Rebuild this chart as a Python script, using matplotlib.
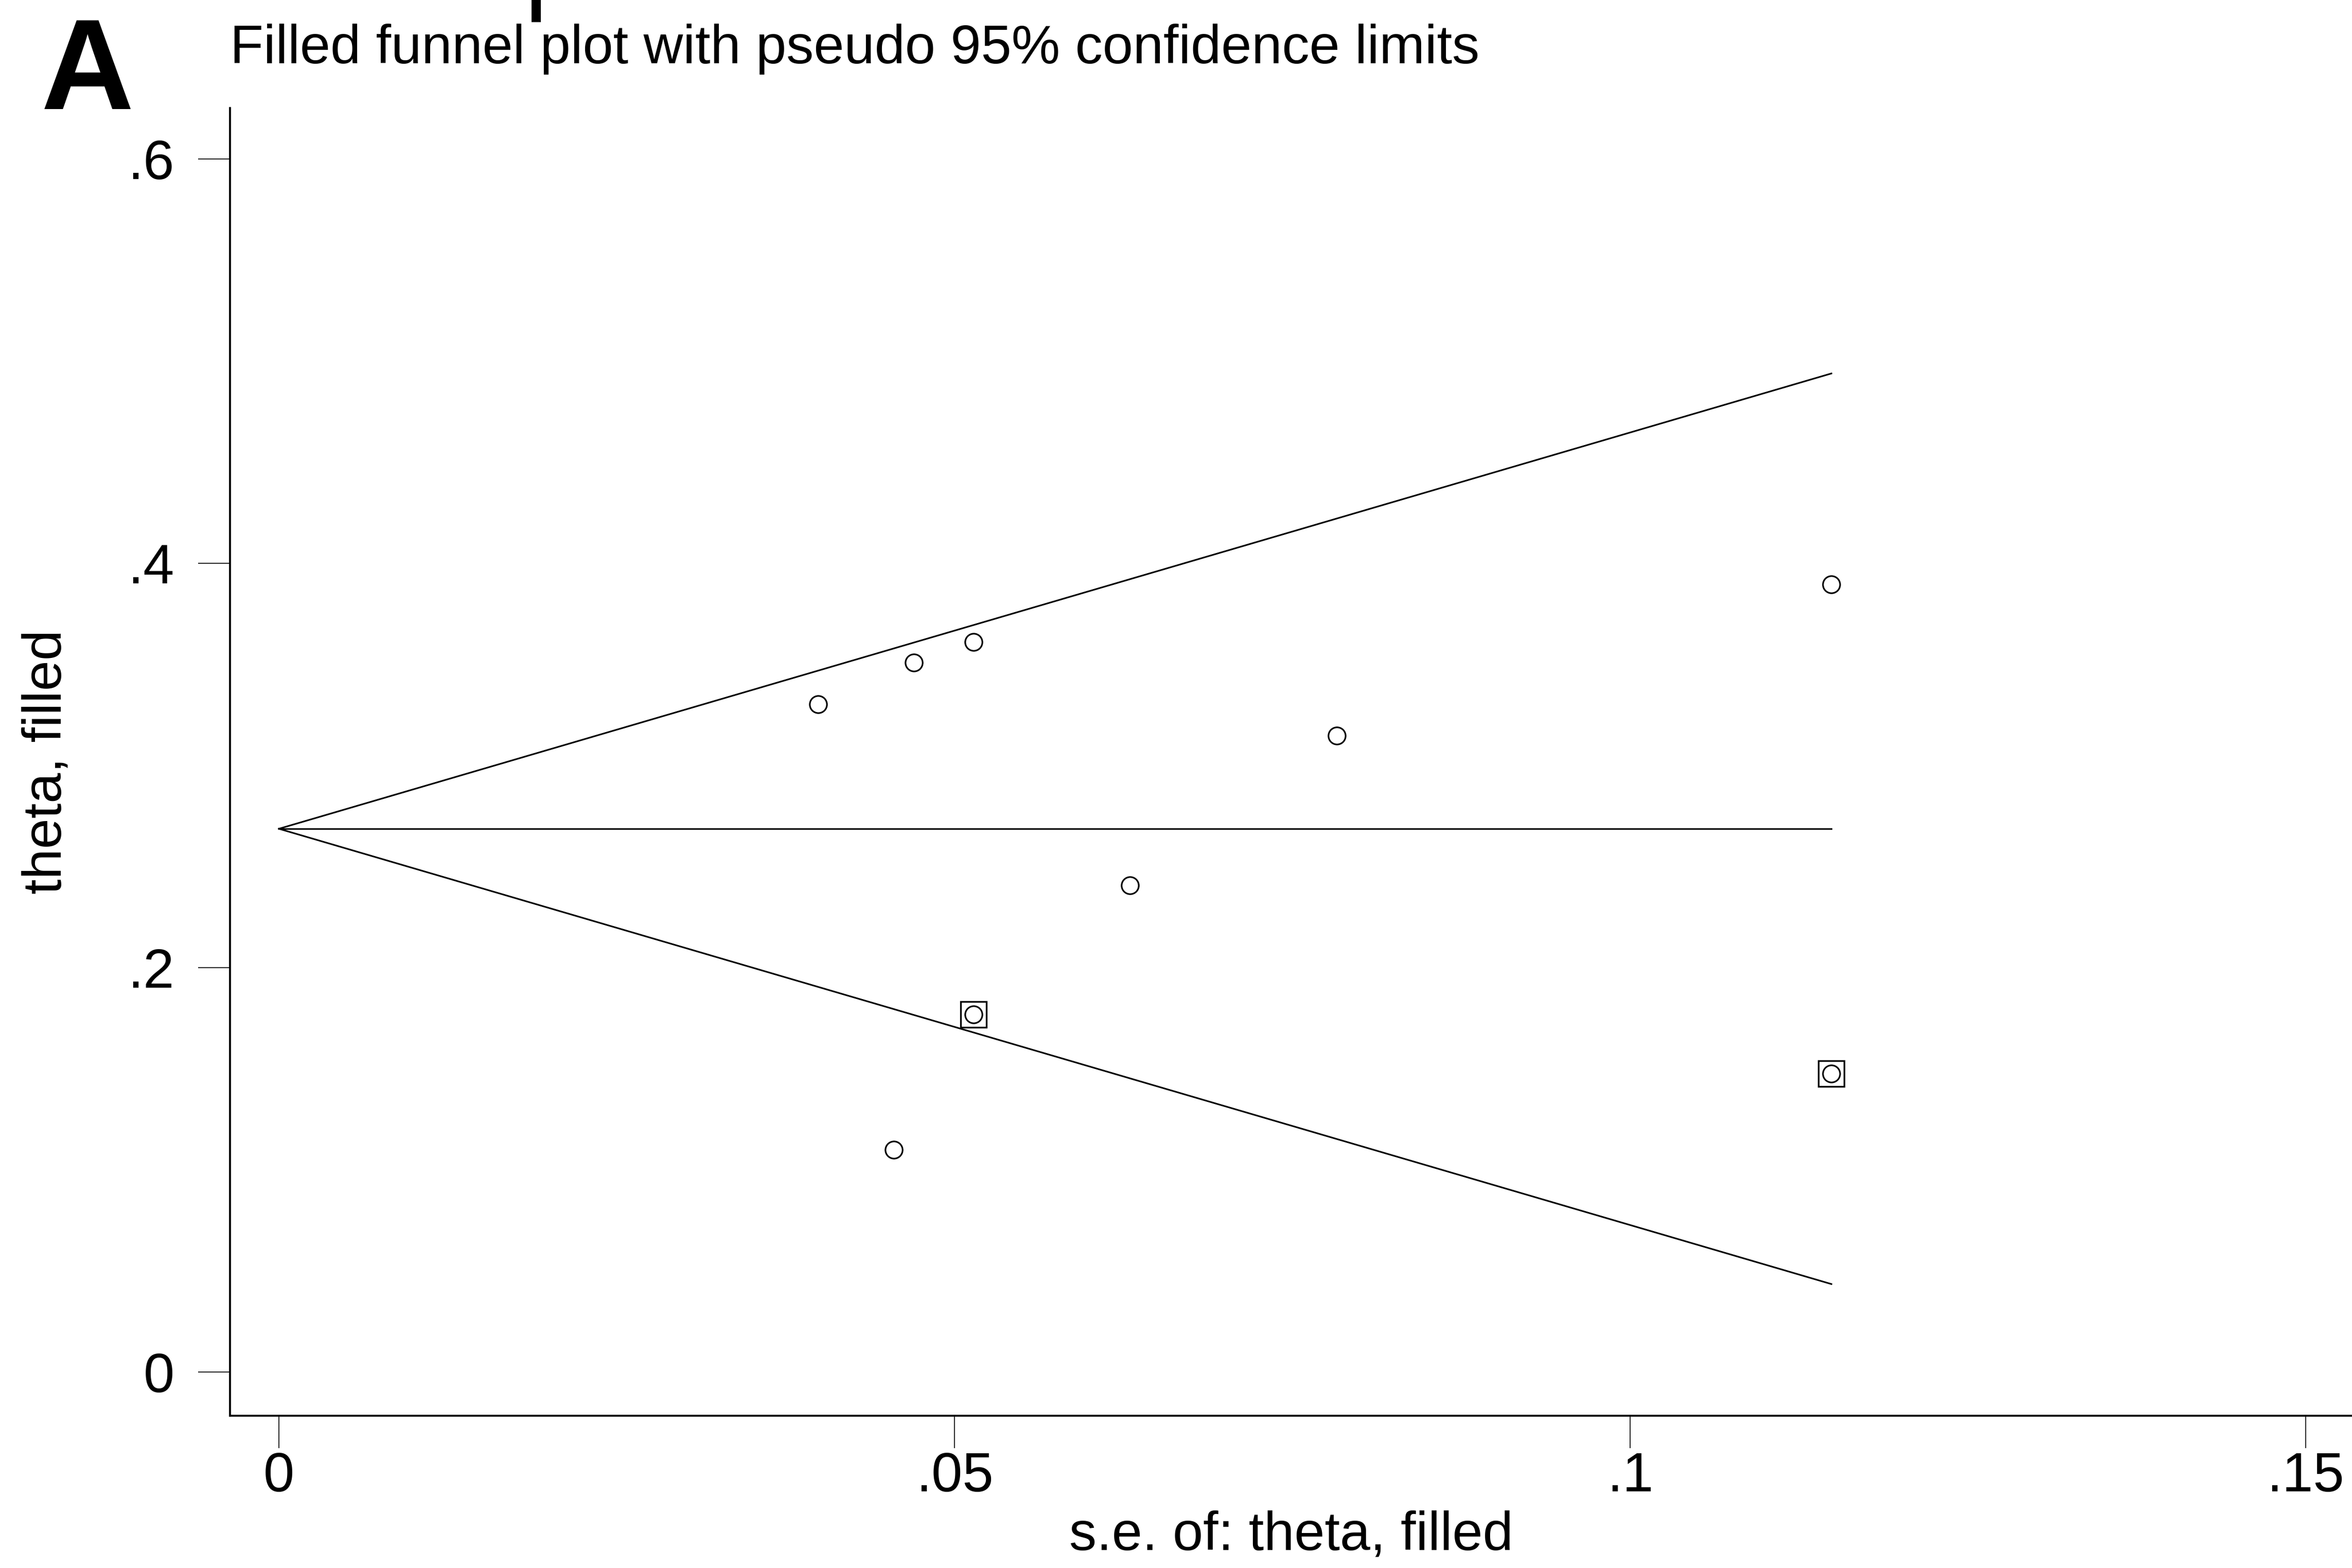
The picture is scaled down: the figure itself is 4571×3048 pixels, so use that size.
import numpy as np
import matplotlib
matplotlib.use("Agg")
import matplotlib.pyplot as plt
from matplotlib.patches import Rectangle

plt.rcParams['font.family'] = ['Liberation Sans', 'DejaVu Sans']

# observed studies
se_obs = [0.0399, 0.0470, 0.0514, 0.0783, 0.0630, 0.0455, 0.1149]
theta_obs = [0.3303, 0.3509, 0.3611, 0.3148, 0.2407, 0.1099, 0.3896]
# imputed (filled) studies
se_fill = [0.0514, 0.1149]
theta_fill = [0.1768, 0.1476]

theta_pooled = 0.2687
se_max = 0.1149

xticks = [0, 0.05, 0.1, 0.15]
xtick_labels = ['0', '.05', '.1', '.15']
yticks = [0, 0.2, 0.4, 0.6]
ytick_labels = ['0', '.2', '.4', '.6']

W, H = 4571, 3048
fig = plt.figure(figsize=(W / 300, H / 300), dpi=300)
ax = fig.add_axes([447 / W, 1 - 2752 / H, 1 - 447 / W, (2752 - 210) / H])

# pseudo 95% confidence limits
se_line = np.array([0, se_max])
lw = 0.75
ax.plot(se_line, theta_pooled + 1.96 * se_line, color='black', lw=lw)
ax.plot(se_line, theta_pooled - 1.96 * se_line, color='black', lw=lw)
ax.plot(se_line, [theta_pooled, theta_pooled], color='black', lw=lw)

ax.plot(se_fill, theta_fill, linestyle='none', marker='s', markersize=11.8,
        markerfacecolor='none', markeredgecolor='black', markeredgewidth=0.8)
ax.plot(se_obs + se_fill, theta_obs + theta_fill, linestyle='none', marker='o',
        markersize=8, markerfacecolor='none', markeredgecolor='black',
        markeredgewidth=0.75)

ax.set_xlim(-0.00362, 0.15343)
ax.set_ylim(-0.02163, 0.6252)
ax.set_xticks(xticks)
ax.set_xticklabels(xtick_labels)
ax.set_yticks(yticks)
ax.set_yticklabels(ytick_labels)

for s in ['top', 'right']:
    ax.spines[s].set_visible(False)
for s in ['left', 'bottom']:
    ax.spines[s].set_linewidth(0.9)

ax.tick_params(axis='both', direction='out', length=15, width=0.4,
               labelsize=26, colors='black')
ax.tick_params(axis='x', pad=1.5)
ax.tick_params(axis='y', pad=11)

ax.set_xlabel('s.e. of: theta, filled', fontsize=25.5)
ax.xaxis.set_label_coords(0.5, (2752 - 2935) / (2752 - 210))
ax.set_ylabel('theta, filled', fontsize=25.5)
ax.yaxis.set_label_coords((141 - 447) / (W - 447), 0.5)

fig.text(447 / W, 1 - 123 / H, 'Filled funnel plot with pseudo 95% confidence limits',
         fontsize=25.5, va='baseline', ha='left')
fig.text(80 / W, 1 - 212 / H, 'A', fontsize=60, fontweight='bold',
         va='baseline', ha='left')

# small stray mark at the top edge of the figure
fig.add_artist(Rectangle((1033 / W, 1 - 43 / H), 18 / W, 43 / H,
                         transform=fig.transFigure, color='black', lw=0))

fig.savefig('out.png', dpi=300, facecolor='white')
